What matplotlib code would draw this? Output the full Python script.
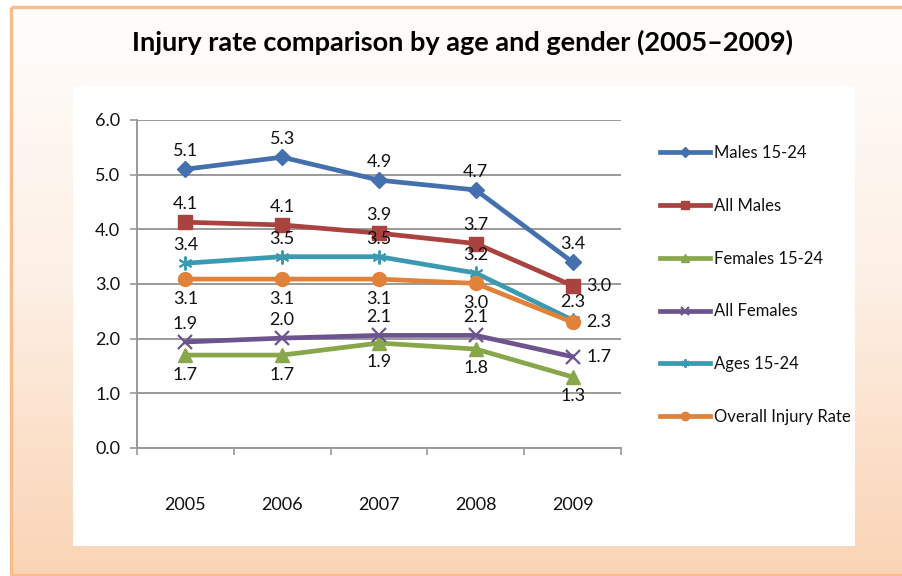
import numpy as np
import matplotlib
matplotlib.use('Agg')
import matplotlib.pyplot as plt
from matplotlib.patches import Rectangle
from matplotlib.colors import LinearSegmentedColormap
from matplotlib.ticker import FixedLocator

# ---------------- data ----------------
years = ['2005', '2006', '2007', '2008', '2009']
males_15_24 = [5.10, 5.32, 4.90, 4.72, 3.40]
all_males = [4.13, 4.08, 3.93, 3.74, 2.97]
females_15_24 = [1.70, 1.70, 1.92, 1.81, 1.30]
all_females = [1.94, 2.01, 2.06, 2.06, 1.67]
ages_15_24 = [3.38, 3.50, 3.50, 3.20, 2.34]
overall_rate = [3.09, 3.09, 3.09, 3.01, 2.30]
series_names = ['Males 15-24', 'All Males', 'Females 15-24', 'All Females',
                'Ages 15-24', 'Overall Injury Rate']
y_ticks = [0, 1, 2, 3, 4, 5, 6]
title = 'Injury rate comparison by age and gender (2005\u20132009)'

FONT = ['Lato', 'DejaVu Sans']
plt.rcParams['font.family'] = FONT

W, H = 902, 576
fig = plt.figure(figsize=(W / 100, H / 100), dpi=100)

# background gradient
bg = fig.add_axes([0, 0, 1, 1], zorder=-10)
bg.set_axis_off()
cmap = LinearSegmentedColormap.from_list('bg', ['#FFFEFD', '#FDEFE4', '#FAD4B5'])
grad = np.linspace(0, 1, 256).reshape(-1, 1)
bg.imshow(grad, aspect='auto', cmap=cmap, extent=[0, 1.01, 0, 1], origin='upper')
bg.set_xlim(0, 1)
bg.set_ylim(0, 1)
# white margin outside border
bg.add_patch(Rectangle((0, 0), 10 / W, 1, color='white', zorder=1))
bg.add_patch(Rectangle((0, 1 - 7 / H), 1, 7 / H, color='white', zorder=1))
# orange border (left, top, bottom)
ln = dict(color='#F8BD8A', lw=2.4, zorder=2, solid_capstyle='butt')
bg.plot([11 / W, 11 / W], [1 - 575 / H, 1 - 7 / H], **ln)
bg.plot([11 / W, 1.01], [1 - 7 / H, 1 - 7 / H], **ln)
bg.plot([11 / W, 1.01], [1 - 575 / H, 1 - 575 / H], **ln)
# inner white panel
bg.add_patch(Rectangle((73 / W, 1 - 546 / H), (855 - 73) / W, (546 - 86) / H,
                       facecolor='white', edgecolor='none', zorder=2))

fig.text(463 / W, 1 - 42 / H, title, ha='center', va='center',
         fontsize=19.5, fontweight='bold', color='#000000')

# ---------------- main axes ----------------
ax = fig.add_axes([137 / W, 1 - 448 / H, (621 - 137) / W, (448 - 120) / H])
ax.set_facecolor('none')
x = np.arange(len(years))

styles = [
    dict(color='#4470AE', marker='D', ms=8.5),
    dict(color='#AA4240', marker='s', ms=10),
    dict(color='#88A64A', marker='^', ms=10),
    dict(color='#6D548E', marker='x', ms=10, mew=1.6),
    dict(color='#3A9AB2', marker=(6, 2, 0), ms=10, mew=1.4),
    dict(color='#E0823A', marker='o', ms=10),
]
data = [males_15_24, all_males, females_15_24, all_females, ages_15_24, overall_rate]
placement = [
    ['a', 'a', 'a', 'a', 'a'],
    ['a', 'a', 'a', 'a', 'r'],
    ['b', 'b', 'b', 'b', 'b'],
    ['a', 'a', 'a', 'a', 'r'],
    ['a', 'a', 'a', 'a', 'a'],
    ['b', 'b', 'b', 'b', 'r'],
]

for name, vals, st in zip(series_names, data, styles):
    ax.plot(x, vals, lw=3.4, label=name, zorder=3, clip_on=False,
            color=st['color'], marker=st['marker'], ms=st['ms'],
            mew=st.get('mew', 1), mec=st['color'], mfc=st['color'])

for vals, pl in zip(data, placement):
    for xi, v, p in zip(x, vals, pl):
        if p == 'a':
            off, ha, va = (0, 13), 'center', 'center'
        elif p == 'b':
            off, ha, va = (0, -14), 'center', 'center'
        else:
            off, ha, va = (10, 0), 'left', 'center'
        ax.annotate(f'{v:.1f}', (xi, v), xytext=off, textcoords='offset points',
                    ha=ha, va=va, fontsize=13, color='#111111', zorder=5)

ax.set_xlim(-0.5, len(years) - 0.5)
ax.set_ylim(0, 6)
ax.set_yticks(y_ticks)
ax.set_yticklabels([f'{t:.1f}' for t in y_ticks])
ax.yaxis.grid(True, color='#9A9A9A', lw=1.4)
ax.set_axisbelow(True)
ax.set_xticks(x)
ax.set_xticklabels(years)
ax.xaxis.set_minor_locator(FixedLocator(np.arange(-0.5, len(years), 1.0)))
ax.tick_params(axis='x', which='major', length=0, pad=35, labelsize=13, colors='#111111')
ax.tick_params(axis='x', which='minor', length=5, width=1.2, color='#9A9A9A', direction='out')
ax.tick_params(axis='y', length=5, width=1.2, color='#9A9A9A', pad=7, labelsize=13,
               labelcolor='#111111')
for s in ['top', 'right']:
    ax.spines[s].set_visible(False)
for s in ['left', 'bottom']:
    ax.spines[s].set_color('#9A9A9A')
    ax.spines[s].set_linewidth(1.4)

leg = ax.legend(loc='upper left', bbox_to_anchor=(652 / W, 1 - 137 / H),
                bbox_transform=fig.transFigure, frameon=False, fontsize=12,
                handlelength=3.0, handletextpad=0.2, labelspacing=2.2,
                markerscale=0.6, borderpad=0)
for t in leg.get_texts():
    t.set_color('#111111')

fig.savefig('out.png', dpi=100)
